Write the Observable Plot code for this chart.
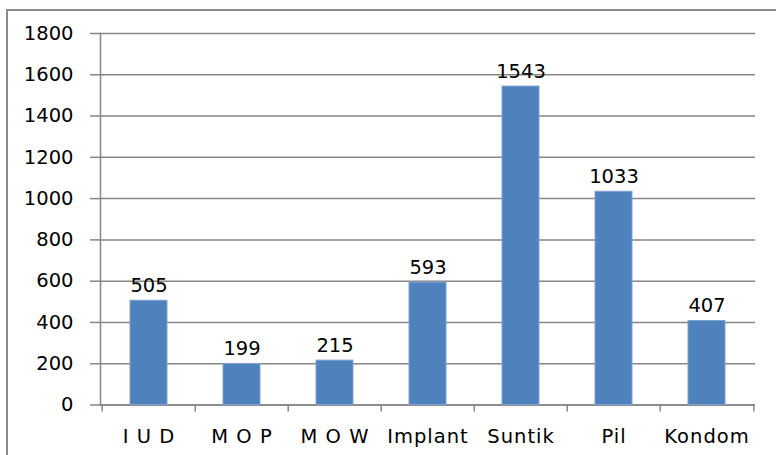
<!DOCTYPE html>
<html>
<head>
<meta charset="utf-8">
<script src="https://cdn.jsdelivr.net/npm/d3@7"></script>
<script src="https://cdn.jsdelivr.net/npm/@observablehq/plot@0.6"></script>
<style>
  html, body { margin: 0; padding: 0; background: #fff; overflow: hidden; }
  #wrap { position: relative; width: 776px; height: 455px; }
  #border { position: absolute; left: 6px; top: 9px; width: 820px; height: 500px;
            border-left: 2px solid #8a8a8a; border-top: 2px solid #8a8a8a; pointer-events: none; }
</style>
</head>
<body>
<div id="wrap"><div id="border"></div></div>
<script>
const categories = ["I U D", "M O P", "M O W", "Implant", "Suntik", "Pil", "Kondom"];
const values = [505, 199, 215, 593, 1543, 1033, 407];
const yTicks = [0, 200, 400, 600, 800, 1000, 1200, 1400, 1600, 1800];

const data = categories.map((c, i) => ({c, v: values[i]}));

const W = 776, H = 455, ML = 100, MR = 21, MT = 33, MB = 50.5;
const step = (W - ML - MR) / categories.length;

const chart = Plot.plot({
  width: W, height: H,
  marginLeft: ML, marginRight: MR, marginTop: MT, marginBottom: MB,
  style: {fontFamily: "DejaVu Sans", fontSize: "19.5px", color: "#000", background: "transparent", overflow: "visible"},
  x: {domain: categories, paddingInner: 0.6, paddingOuter: 0.3, align: 0.5, label: null},
  y: {domain: [0, 1800], label: null},
  marks: [
    Plot.gridY(yTicks, {stroke: "#868686", strokeOpacity: 1, strokeWidth: 1.5}),
    Plot.frame({anchor: "left", stroke: "#868686", strokeWidth: 1.5}),
    Plot.ruleY([0], {stroke: "#868686", strokeWidth: 1.5}),
    Plot.barY(data, {x: "c", y: "v", fill: "#4F81BD", stroke: "#7FA3D0", strokeWidth: 1}),
    Plot.text(data, {x: "c", y: "v", text: d => String(d.v), lineAnchor: "bottom", dy: -9, fontSize: 19.5, fill: "#000"}),
    Plot.axisY(yTicks, {tickSize: 10, tickPadding: 17, stroke: "#868686", strokeWidth: 1.5, fontSize: 19.5, fill: "#000", tickFormat: d => String(d)}),
    Plot.axisX({tickSize: 0, tickPadding: 24, fontSize: 19.5, fill: "#000"}),
    Plot.ruleX(categories, {x: d => d, dx: -step / 2, y1: 0, y2: 0, insetBottom: -7, stroke: "#868686", strokeWidth: 1.5}),
    Plot.ruleX(categories.slice(-1), {x: d => d, dx: step / 2, y1: 0, y2: 0, insetBottom: -7, stroke: "#868686", strokeWidth: 1.5})
  ]
});

d3.select(chart).selectAll("text").style("font-size", "19.5px").style("font-family", "DejaVu Sans");
d3.select(chart).selectAll('[aria-label="x-axis tick label"] text').style("letter-spacing", "1px");
document.getElementById("wrap").prepend(chart);
</script>
</body>
</html>
